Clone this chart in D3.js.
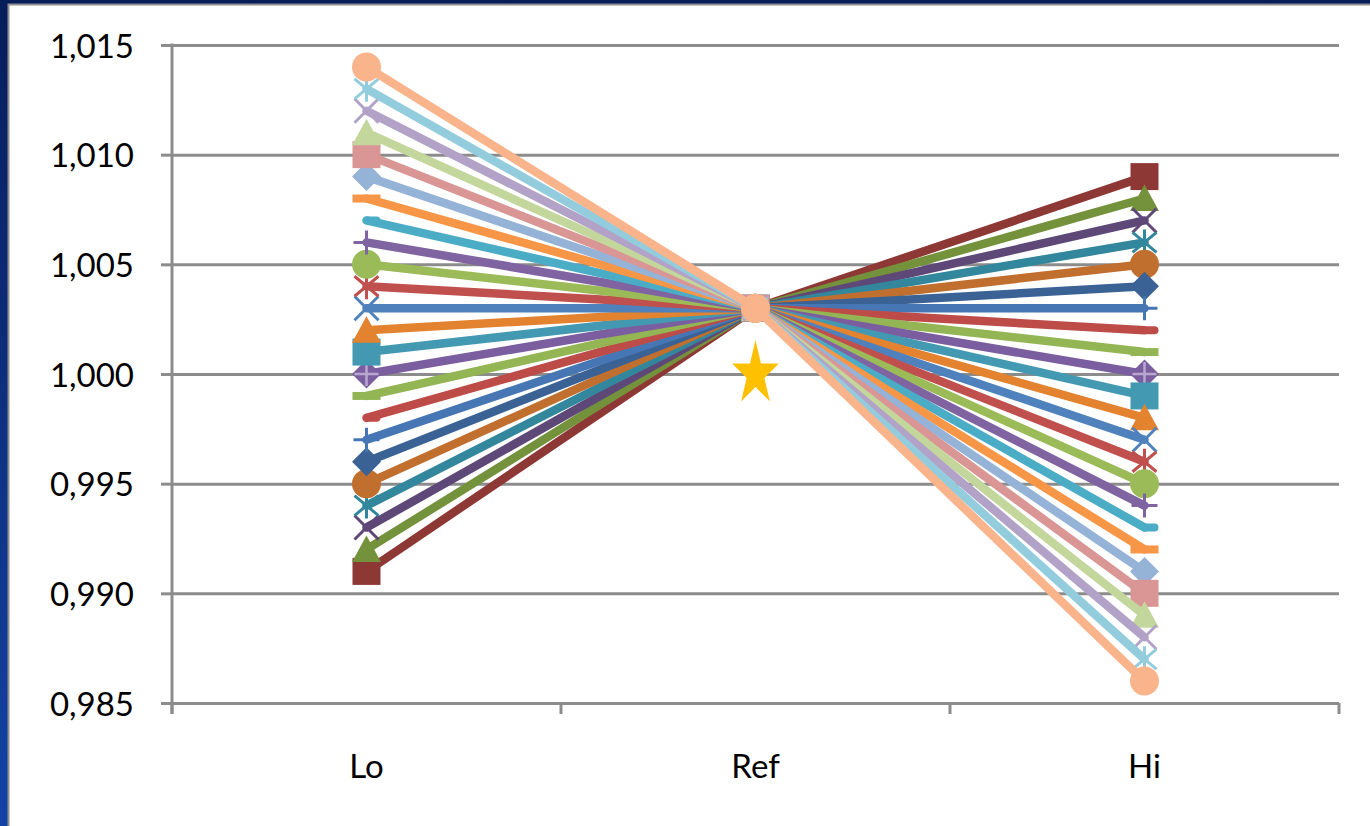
<!DOCTYPE html>
<html>
<head>
<meta charset="utf-8">
<script src="https://cdn.jsdelivr.net/npm/d3@7"></script>
<style>
  html, body { margin: 0; padding: 0; overflow: hidden; background: #0a2263; }
  svg { display: block; }
</style>
</head>
<body>
<svg id="chart" width="1370" height="826"></svg>
<script>
// ---------------- DATA ----------------
const categories = ["Lo", "Ref", "Hi"];

// 24 series, listed in drawing order (ascending "Lo" value)
const loValues  = [0.991, 0.992, 0.993, 0.994, 0.995, 0.996, 0.997, 0.998, 0.999, 1.000, 1.001, 1.002,
                   1.003, 1.004, 1.005, 1.006, 1.007, 1.008, 1.009, 1.010, 1.011, 1.012, 1.013, 1.014];
const refValues = [1.003, 1.003, 1.003, 1.003, 1.003, 1.003, 1.003, 1.003, 1.003, 1.003, 1.003, 1.003,
                   1.003, 1.003, 1.003, 1.003, 1.003, 1.003, 1.003, 1.003, 1.003, 1.003, 1.003, 1.003];
const hiValues  = [1.009, 1.008, 1.007, 1.006, 1.005, 1.004, 1.003, 1.002, 1.001, 1.000, 0.999, 0.998,
                   0.997, 0.996, 0.995, 0.994, 0.993, 0.992, 0.991, 0.990, 0.989, 0.988, 0.987, 0.986];

const seriesColors = [
  "#8e3836", "#74913c", "#5e4878", "#33879c", "#c06f2e", "#3b6295",
  "#4677b4", "#bd4c49", "#93b554", "#7b5e9f", "#4399b1", "#e3822f",
  "#4f81bd", "#c0504d", "#9bbb59", "#8064a2", "#4bacc6", "#f79646",
  "#95b3d7", "#d99694", "#c3d69b", "#b3a2c7", "#93cddd", "#f9b48c"
];
const seriesMarkers = [
  "square", "triangle", "x", "star", "circle", "diamond",
  "plus", "shortdash", "dash", "diamondplus", "square", "triangle",
  "x", "star", "circle", "plus", "shortdash", "dash",
  "diamond", "square", "triangle", "x", "star", "circle"
];

// Target point
const targetCategory = "Ref";
const targetValue = 1.000;

const yTicks = [0.985, 0.990, 0.995, 1.000, 1.005, 1.010, 1.015];
const yTickLabels = ["0,985", "0,990", "0,995", "1,000", "1,005", "1,010", "1,015"];

// ---------------- LAYOUT ----------------
const W = 1370, H = 826;
const plot = { left: 172, right: 1339, top: 45, bottom: 703 };
const gridColor = "#8c8c8c";
const fontFamily = "Lato, 'Open Sans', sans-serif";

const svg = d3.select("#chart");

// background frame
const defs = svg.append("defs");
const grad = defs.append("linearGradient").attr("id", "bg").attr("x1", 0).attr("y1", 0).attr("x2", 0).attr("y2", 1);
grad.append("stop").attr("offset", "0%").attr("stop-color", "#071d5a");
grad.append("stop").attr("offset", "100%").attr("stop-color", "#1443a6");
svg.append("rect").attr("width", W).attr("height", H).attr("fill", "url(#bg)");
svg.append("rect").attr("x", 8.5).attr("y", 4.5).attr("width", W + 20).attr("height", H + 20)
  .attr("fill", "#ffffff").attr("stroke", "#8e8e8e").attr("stroke-width", 2);

// scales
const x = d3.scaleBand().domain(categories).range([plot.left, plot.right]).paddingInner(0).paddingOuter(0);
const xc = c => x(c) + x.bandwidth() / 2;
const y = d3.scaleLinear().domain([yTicks[0], yTicks[yTicks.length - 1]]).range([plot.bottom, plot.top]);

// gridlines
const grid = svg.append("g").attr("transform", `translate(${plot.left},0)`)
  .call(d3.axisRight(y).tickValues(yTicks).tickSize(plot.right - plot.left).tickFormat(""));
grid.select(".domain").remove();
grid.selectAll("line").attr("stroke", gridColor).attr("stroke-width", 3);

// y axis
const yAxis = svg.append("g").attr("transform", `translate(${plot.left},0)`)
  .call(d3.axisLeft(y).tickValues(yTicks).tickSize(11).tickPadding(27)
    .tickFormat((d, i) => yTickLabels[i]));
yAxis.select(".domain").attr("stroke", gridColor).attr("stroke-width", 3)
  .attr("d", `M0,${plot.top - 1.5}V${plot.bottom + 11}`);
yAxis.selectAll(".tick line").attr("stroke", gridColor).attr("stroke-width", 3);
yAxis.selectAll(".tick text").attr("font-family", fontFamily).attr("font-size", 33)
  .attr("fill", "#000").attr("dy", "0.37em");

// x axis (ticks between categories)
const xAxis = svg.append("g").attr("transform", `translate(0,${plot.bottom})`)
  .call(d3.axisBottom(x).tickSize(0).tickPadding(52));
xAxis.select(".domain").remove();
xAxis.selectAll(".tick text").attr("font-family", fontFamily).attr("font-size", 33)
  .attr("fill", "#000").attr("dy", "0.71em");
const boundaries = categories.map(c => x(c)).concat([x(categories[categories.length - 1]) + x.bandwidth()]);
svg.append("g").selectAll("line").data(boundaries).join("line")
  .attr("x1", d => d).attr("x2", d => d)
  .attr("y1", plot.bottom).attr("y2", plot.bottom + 11)
  .attr("stroke", gridColor).attr("stroke-width", 3);

// series
const seriesData = loValues.map((lo, i) => ({
  values: [lo, refValues[i], hiValues[i]],
  color: seriesColors[i],
  marker: seriesMarkers[i]
}));

const line = d3.line().x((d, j) => xc(categories[j])).y(d => y(d));

function drawMarker(g, type, color) {
  const sw = 3;
  switch (type) {
    case "circle":
      g.append("circle").attr("r", 14.5).attr("fill", color); break;
    case "square":
      g.append("rect").attr("x", -14).attr("y", -13.5).attr("width", 28).attr("height", 27).attr("fill", color); break;
    case "diamond":
      g.append("path").attr("d", "M0,-14.5L14.5,0L0,14.5L-14.5,0Z").attr("fill", color); break;
    case "diamondplus":
      g.append("path").attr("d", "M0,-14.5L14.5,0L0,14.5L-14.5,0Z").attr("fill", color);
      g.append("path").attr("d", "M0,-12V12M-12,0H12").attr("stroke", "#b8a8cf").attr("stroke-width", 2.5).attr("fill", "none"); break;
    case "triangle":
      g.append("path").attr("d", "M0,-14L14.5,12.5L-14.5,12.5Z").attr("fill", color); break;
    case "x":
      g.append("path").attr("d", "M-12,-12L12,12M-12,12L12,-12").attr("stroke", color).attr("stroke-width", sw).attr("fill", "none"); break;
    case "star":
      g.append("path").attr("d", "M-12,-10L12,10M-12,10L12,-10M0,-13V13").attr("stroke", color).attr("stroke-width", sw).attr("fill", "none"); break;
    case "plus":
      g.append("path").attr("d", "M0,-12V12M-13,0H13").attr("stroke", color).attr("stroke-width", sw).attr("fill", "none"); break;
    case "dash":
      g.append("rect").attr("x", -14).attr("y", -4).attr("width", 28).attr("height", 8).attr("fill", color); break;
    case "shortdash":
      g.append("rect").attr("x", -3).attr("y", -4).attr("width", 17).attr("height", 8).attr("rx", 4).attr("fill", color); break;
  }
}

const sg = svg.append("g").selectAll("g.series").data(seriesData).join("g").attr("class", "series");
sg.each(function (s) {
  const g = d3.select(this);
  g.append("path").attr("d", line(s.values)).attr("fill", "none")
    .attr("stroke", s.color).attr("stroke-width", 8.5)
    .attr("stroke-linejoin", "round").attr("stroke-linecap", "round");
  s.values.forEach((v, j) => {
    const mg = g.append("g").attr("transform", `translate(${xc(categories[j])},${y(v)})`);
    drawMarker(mg, s.marker, s.color);
  });
});

// target star
const rx = 24.5, ry = 34;
const starPts = d3.range(10).map(k => {
  const a = -Math.PI / 2 + k * Math.PI / 5;
  const r = k % 2 === 0 ? 1 : 0.38;
  return [Math.cos(a) * rx * r, Math.sin(a) * ry * r];
});
svg.append("path")
  .attr("d", "M" + starPts.map(p => p.join(",")).join("L") + "Z")
  .attr("transform", `translate(${xc(targetCategory)},${y(targetValue)})`)
  .attr("fill", "#ffc000");
</script>
</body>
</html>
